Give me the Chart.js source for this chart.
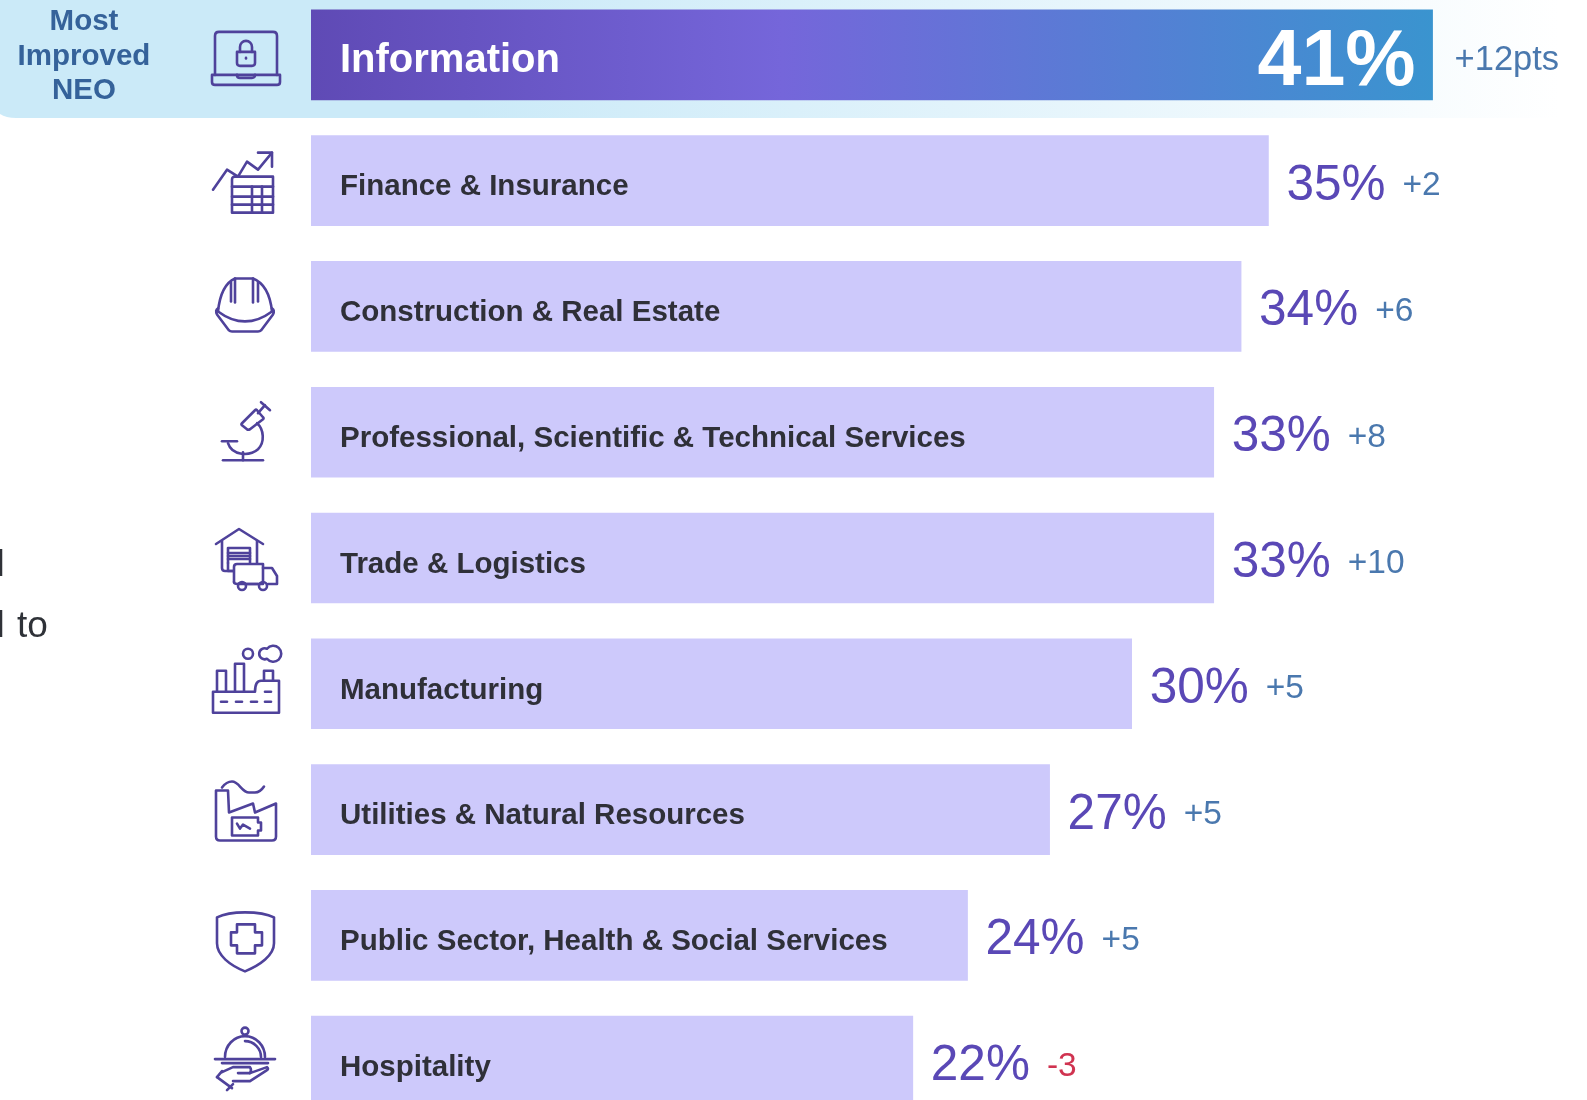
<!DOCTYPE html>
<html><head><meta charset="utf-8">
<style>html,body{margin:0;padding:0;background:#fff;overflow:hidden;width:1587px;height:1100px}canvas{display:block;position:absolute;left:0;top:-8px}</style>
<script src="https://cdn.jsdelivr.net/npm/chart.js@4/dist/chart.umd.min.js"></script>
</head><body>
<canvas id="c" width="1587" height="1132" role="img" aria-label="Share of respondents by sector"></canvas>
<script>
const categories = ["Information","Finance & Insurance","Construction & Real Estate","Professional, Scientific & Technical Services","Trade & Logistics","Manufacturing","Utilities & Natural Resources","Public Sector, Health & Social Services","Hospitality"];
const values = [41,35,34,33,33,30,27,24,22];
const deltas = ["+12pts","+2","+6","+8","+10","+5","+5","+5","-3"];
const highlightTitle = ["Most","Improved","NEO"];
const FONT = '"Liberation Sans", Arial, sans-serif';
const PURPLE = '#5a48b6', ICON = '#4f429b', BLUE = '#4a78ae', RED = '#d03350', BAR = '#cdc9fb';

// icon strokes in a local box centred on the row, about 70px wide
const icons = [
 ["M-31 20 V-19 Q-31 -23 -27 -23 H27 Q31 -23 31 -19 V20","M-34 20 H34 V27 Q34 30 31 30 H-31 Q-34 30 -34 27 Z","M-9 20 Q-9 23 -6 23 H6 Q9 23 9 20","M-9 -3 H9 V8 Q9 11 6 11 H-6 Q-9 11 -9 8 Z","M-6 -3 V-8 A6 6 0 0 1 6 -8 V-3","M0 3 L0 3.5"],
 ["M-33 9 L-19 -11 L-8 -4 L1 -19 L12 -11 L26 -28","M12 -28 H26 V-14","M-14 32 V-1 Q-14 -4 -11 -4 H27 V32 Z","M-14 6 H27","M-14 16 H27","M-14 24 H27","M6 6 V32","M16 6 V32"],
 ["M-28 5 C-26 -14 -20 -24 -11 -28 H7 C17 -24 24 -14 26 5","M-11 -28 V-4","M7 -28 V-4","M-15 -24 V-5","M12 -24 V-5","M-28 5 Q-1 25 26 5","M-28 2 Q-31 4 -29 8 L-17 24 Q-16 25 -14 25 H12 Q14 25 15 24 L27 8 Q29 4 26 2"],
 ["M-24 9 H-9","M-18 11 C-14 24 4 24 12 17 C19 10 18 -3 11 -9","M-3 20 V28","M-23 28 H17","M-4 -9 L9 -22 Q10 -23 11 -22 L17 -15 Q18 -14 17 -13 L4 -3 Q2 -2 1 -3 L-4 -7 Q-5 -8 -4 -9 Z","M12 -19 L19 -27","M15 -30 L24 -22"],
 ["M-30 -14 L-7 -29 L17 -14","M-24 -17 V10 Q-24 13 -21 13 H-13","M11 -17 V5","M-18 5 V-10 H4 V5","M-18 5 V13 H-13","M-18 -5 H4","M-18 -2 H4","M-18 1 H4","M-12 24 V9 Q-12 6 -9 6 H17 V26 H-8","M17 10 H26 L31 18 V26 H22","M-1 26 H12","M-12 24 Q-12 26 -8 26","M0 28 A4 4 0 1 1 -8 28 A4 4 0 1 1 0 28","M21 28 A4 4 0 1 1 13 28 A4 4 0 1 1 21 28"],
 ["M-33 29 V8 H9 Q9 -3 15 -3 H33 V29 Z","M-29 8 V-13 H-20 V8","M-11 8 V-20 H-2 V8","M18 -3 V-13 H27 V-3","M-25 18 H-19","M-10 18 H-4","M5 18 H11","M19 18 H25","M19 8 H25","M7 -30 A5 5 0 1 1 -3 -30 A5 5 0 1 1 7 -30","M21 -35 A5.5 5.5 0 1 0 21 -25 A8 8 0 1 0 21 -35 Z"],
 ["M-30 27 V-19 H-18 L-17 3 L7 -6 L9 3 L30 -6 V27 Q30 31 26 31 H-26 Q-30 31 -30 27 Z","M-24 -22 C-21 -26 -18 -28 -14 -28 C-7 -28 -4 -17 3 -17 H9 C13 -17 16 -20 18 -23","M-14 8 H12 V13 H15 V21 H12 V26 H-14 Z","M-9 14 L-6 19 L-3 15 L4 19"],
 ["M-1 -23 C8 -23 20 -22 28 -18 V8 C28 20 14 30 -1 36 C-16 30 -29 20 -29 8 V-18 C-21 -22 -10 -23 -1 -23 Z","M-9 -11 H9 V-3 H16 V10 H9 V18 H-9 V10 H-15 V-3 H-9 Z"],
 ["M2.5 -30 A3.5 3.5 0 1 1 -4.5 -30 A3.5 3.5 0 1 1 2.5 -30","M-21 -4 A20 21 0 0 1 19 -4","M-1 -20 A16 16 0 0 1 15 -4","M-31 -2 H29","M-24 2 H22","M-24 11 L-13 6 H4 Q6 9 4 12 H-8","M4 12 L21 6 Q23 8 21 9 L4 20 H-13","M-29 16 L-14 27","M-29 16 L-24 10","M-19 29 L-13 23"]
];

const decor = {
  id:'decor',
  beforeDraw(c){
    const g=c.ctx;
    g.save();
    g.translate(0,8); // canvas sits 8px above the page edge
    const grad=g.createLinearGradient(0,0,1560,0);
    grad.addColorStop(0,'#cbeaf8');grad.addColorStop(0.3,'#cbeaf8');grad.addColorStop(0.82,'#f0f9fd');grad.addColorStop(1,'#ffffff');
    g.fillStyle=grad;
    g.beginPath();g.moveTo(0,0);g.lineTo(1560,0);g.lineTo(1560,118);g.lineTo(16,118);g.quadraticCurveTo(6,118,0,114);g.closePath();g.fill();
    g.fillStyle='#35629a';g.font='bold 29.5px '+FONT;g.textAlign='center';g.textBaseline='alphabetic';
    highlightTitle.forEach((t,i)=>g.fillText(t,84,30+i*34.7));
    g.fillStyle='#2f3238';g.font='37px '+FONT;g.textAlign='left';
    g.fillText('l',-3.5,576);
    g.fillText('l',-3.5,637);
    g.fillText('to',17,637);
    g.restore();
  },
  afterDatasetsDraw(c){
    const g=c.ctx,xs=c.scales.x,ys=c.scales.y;
    g.save();
    categories.forEach((name,i)=>{
      const y=ys.getPixelForValue(i),end=xs.getPixelForValue(values[i]),start=xs.getPixelForValue(0);
      g.save();g.translate(246,y);g.strokeStyle=ICON;g.lineWidth=2.6;g.lineCap='round';g.lineJoin='round';
      icons[i].forEach(p=>g.stroke(new Path2D(p)));g.restore();
      g.textBaseline='alphabetic';g.textAlign='left';
      const hi=i===0;
      g.fillStyle=hi?'#ffffff':'#2f3038';
      g.font='bold '+(hi?40:29.5)+'px '+FONT;
      g.fillText(name,start+29,y+(hi?17:14.8));
      if(hi){
        g.font='bold 79px '+FONT;g.fillStyle='#ffffff';g.textAlign='right';
        g.fillText(values[i]+'%',end-17,y+30);
        g.textAlign='left';g.font='34.5px '+FONT;g.fillStyle=BLUE;
        g.fillText(deltas[i],end+22,y+15);
      }else{
        g.font='49.5px '+FONT;g.fillStyle=PURPLE;
        const s=values[i]+'%';g.fillText(s,end+18,y+19);
        const w=g.measureText(s).width;
        g.font='33.5px '+FONT;g.fillStyle=deltas[i][0]==='-'?RED:BLUE;
        g.fillText(deltas[i],end+18+w+17,y+14.5);
      }
    });
    g.restore();
  }
};

new Chart(document.getElementById('c'),{
  type:'bar',
  plugins:[decor],
  data:{labels:categories,datasets:[{data:values,barThickness:90,borderWidth:0,
    backgroundColor(ctx){
      if(ctx.dataIndex!==0) return BAR;
      const {chartArea,scales}=ctx.chart; if(!chartArea) return BAR;
      const x0=scales.x.getPixelForValue(0),x1=scales.x.getPixelForValue(values[0]);
      const gr=ctx.chart.ctx.createLinearGradient(x0,0,x1,0);
      gr.addColorStop(0,'#5f4ab5');gr.addColorStop(0.42,'#7566da');gr.addColorStop(1,'#3a94cf');
      return gr;
    }}]},
  options:{
    indexAxis:'y',responsive:false,animation:false,
    layout:{padding:{left:311,right:45,top:0,bottom:0}},
    plugins:{legend:{display:false},title:{display:false},tooltip:{enabled:false}},
    scales:{
      x:{display:false,min:0,max:45},
      y:{display:false,grid:{display:false}}
    }
  }
});
</script>
</body></html>
